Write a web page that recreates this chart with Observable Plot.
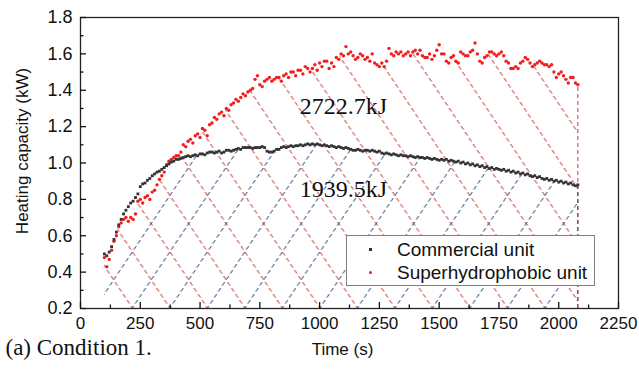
<!DOCTYPE html>
<html><head><meta charset="utf-8">
<script src="https://cdn.jsdelivr.net/npm/d3@7"></script>
<script src="https://cdn.jsdelivr.net/npm/@observablehq/plot@0.6"></script>
<style>
body{margin:0;background:#fff;}
#wrap{position:relative;width:639px;height:369px;overflow:hidden;background:#fff;}
.legend{position:absolute;left:346px;top:235px;width:247px;height:49px;border:1px solid #808080;background:#fff;font-family:"Liberation Sans",Arial,sans-serif;font-size:19px;color:#111;}
.row{position:absolute;left:0;width:100%;height:23px;line-height:23px;}
.mk{position:absolute;left:22px;top:10px;width:3px;height:3px;}
.lab{position:absolute;left:50px;white-space:nowrap;}
</style></head><body><div id="wrap"></div>
<script>
// ---- data ----
const timeStart = 100, timeStep = 10; // sampling of both series (s)
const commercial = [
0.50,0.49,0.51,0.54,0.58,0.62,0.66,0.69,0.72,0.74,
0.76,0.78,0.79,0.81,0.83,0.87,0.885,0.89,0.905,0.915,
0.93,0.94,0.95,0.955,0.965,0.975,0.985,0.995,1.005,1.01,
1.02,1.02,1.025,1.03,1.035,1.04,1.035,1.04,1.045,1.04,
1.05,1.05,1.045,1.055,1.06,1.06,1.055,1.06,1.065,1.055,
1.06,1.07,1.07,1.065,1.07,1.075,1.08,1.075,1.085,1.085,
1.085,1.085,1.08,1.085,1.085,1.085,1.09,1.085,1.065,1.06,
1.06,1.065,1.075,1.075,1.085,1.09,1.085,1.09,1.095,1.09,
1.095,1.095,1.1,1.095,1.1,1.105,1.1,1.105,1.1,1.105,
1.1,1.095,1.1,1.095,1.09,1.095,1.09,1.085,1.09,1.085,
1.08,1.085,1.08,1.075,1.07,1.07,1.075,1.07,1.065,1.07,
1.07,1.065,1.07,1.065,1.06,1.065,1.055,1.05,1.055,1.05,
1.045,1.05,1.045,1.04,1.045,1.04,1.04,1.035,1.04,1.035,
1.03,1.035,1.03,1.03,1.025,1.03,1.025,1.02,1.025,1.02,
1.015,1.02,1.015,1.02,1.01,1.015,1.01,1.005,1.01,1.0,
1.005,0.995,1.0,0.99,0.995,0.985,0.99,0.98,0.985,0.975,
0.98,0.97,0.975,0.965,0.97,0.965,0.96,0.965,0.955,0.96,
0.95,0.955,0.945,0.95,0.94,0.945,0.935,0.94,0.93,0.925,
0.93,0.92,0.925,0.915,0.91,0.915,0.905,0.91,0.9,0.905,
0.895,0.9,0.89,0.895,0.885,0.89,0.88,0.875,0.88];
const superhydrophobic = [
0.48,0.43,0.47,0.52,0.57,0.60,0.65,0.67,0.69,0.70,
0.68,0.70,0.69,0.72,0.79,0.80,0.78,0.81,0.82,0.80,
0.84,0.85,0.88,0.91,0.93,0.95,0.99,1.01,1.02,1.03,
1.04,1.04,1.06,1.10,1.09,1.12,1.13,1.11,1.15,1.16,
1.14,1.19,1.18,1.15,1.21,1.22,1.25,1.24,1.27,1.28,
1.26,1.30,1.29,1.32,1.33,1.35,1.34,1.36,1.38,1.37,
1.39,1.40,1.41,1.46,1.48,1.43,1.42,1.45,1.46,1.47,
1.45,1.46,1.47,1.47,1.45,1.48,1.49,1.47,1.50,1.50,
1.48,1.51,1.51,1.49,1.53,1.52,1.50,1.52,1.54,1.51,
1.55,1.53,1.56,1.56,1.52,1.55,1.53,1.58,1.57,1.60,
1.59,1.64,1.60,1.61,1.59,1.57,1.58,1.60,1.59,1.57,
1.58,1.56,1.60,1.55,1.54,1.53,1.55,1.53,1.56,1.63,
1.60,1.59,1.61,1.60,1.61,1.59,1.60,1.61,1.59,1.61,
1.62,1.60,1.62,1.59,1.58,1.58,1.60,1.57,1.59,1.62,
1.65,1.60,1.60,1.56,1.55,1.58,1.59,1.56,1.55,1.61,
1.60,1.59,1.59,1.61,1.62,1.66,1.60,1.56,1.55,1.58,
1.59,1.61,1.61,1.60,1.59,1.60,1.61,1.59,1.56,1.55,
1.52,1.52,1.53,1.52,1.55,1.56,1.58,1.57,1.55,1.53,
1.54,1.55,1.56,1.55,1.54,1.54,1.53,1.54,1.50,1.47,
1.49,1.50,1.48,1.46,1.44,1.47,1.47,1.44,1.43];
const seriesNames = ["Commercial unit", "Superhydrophobic unit"];
const xTicks = [0, 250, 500, 750, 1000, 1250, 1500, 1750, 2000, 2250];
const xMinorTicks = [125, 375, 625, 875, 1125, 1375, 1625, 1875, 2125];
const yTicks = [0.2, 0.4, 0.6, 0.8, 1.0, 1.2, 1.4, 1.6, 1.8];
const yMinorTicks = [0.3, 0.5, 0.7, 0.9, 1.1, 1.3, 1.5, 1.7];
const annotText = ["2722.7kJ", "1939.5kJ"];
const annotTime = [1100, 1100];
const annotValue = [1.31, 0.855];
const xLabel = "Time (s)";
const yLabel = "Heating capacity (kW)";
const caption = "(a) Condition 1.";

// ---- style ----
const hatchAnchorTime = 376, hatchGap = 37.5, hatchSlope = 1.5, dashPeriod = 6, dashOn = 3.5;
const redHatch = "#c43c3c", blueHatch = "#3d4a7d";

const rows = arr => arr.map((v, i) => ({t: timeStart + i * timeStep, v}));
const black = rows(commercial), red = rows(superhydrophobic);
const annot = annotText.map((s, i) => ({s, t: annotTime[i], v: annotValue[i]}));
const sans = '"Liberation Sans", Arial, sans-serif';
const serif = '"Liberation Serif", "Times New Roman", serif';

const plot = Plot.plot({
  width: 639, height: 369,
  marginLeft: 80, marginRight: 21, marginTop: 17, marginBottom: 61,
  style: {fontFamily: sans, fontSize: "17px", color: "#111", background: "#fff"},
  x: {domain: [0, 2250]},
  y: {domain: [0.2, 1.8]},
  marks: [
    Plot.areaY(red, {x: "t", y1: 0.2, y2: "v", fill: "url(#hatchRed)"}),
    Plot.areaY(black, {x: "t", y1: 0.2, y2: "v", fill: "url(#hatchBlue)"}),
    Plot.ruleX([red[red.length - 1]], {x: "t", y1: 0.2, y2: "v", stroke: redHatch, strokeDasharray: "4,3"}),
    Plot.ruleX([black[black.length - 1]], {x: "t", y1: 0.2, y2: "v", stroke: blueHatch, strokeDasharray: "4,3"}),
    Plot.text(annot, {x: "t", y: "v", text: "s", fontFamily: serif, fontSize: 24, fill: "#111", ariaLabel: "annotation"}),
    Plot.dot(red, {x: "t", y: "v", r: 1.7, fill: "#f01e1e"}),
    Plot.dot(black, {x: "t", y: "v", r: 1.6, symbol: "square", fill: "#333"}),
    Plot.frame({stroke: "#222", strokeWidth: 1.3}),
    Plot.axisX({ticks: xMinorTicks, tickSize: -3.5, tickFormat: () => "", label: null, strokeWidth: 1.3}),
    Plot.axisX({ticks: xTicks, tickSize: -6, tickPadding: 14, tickFormat: d => String(d), label: null, strokeWidth: 1.3}),
    Plot.axisY({ticks: yMinorTicks, tickSize: -3.5, tickFormat: () => "", label: null, strokeWidth: 1.3}),
    Plot.axisY({ticks: yTicks, tickSize: -6, tickPadding: 14, tickFormat: d3.format(".1f"), label: null, strokeWidth: 1.3, fontSize: 18}),
    Plot.text([yLabel], {text: d => d, frameAnchor: "left", textAnchor: "middle", rotate: -90, dx: -58, dy: -12, fontSize: 17, fill: "#111"}),
    Plot.text([xLabel], {text: d => d, frameAnchor: "bottom", dx: -7, dy: 46, fontSize: 17, fill: "#111"}),
    Plot.text([caption], {text: d => d, frameAnchor: "bottom-left", dx: -75, dy: 46, textAnchor: "start", fontFamily: serif, fontSize: 23, letterSpacing: "1px", fill: "#111"})
  ]
});

const wrap = document.getElementById("wrap");
wrap.appendChild(plot);

// hatch patterns
const ns = "http://www.w3.org/2000/svg";
const xs = plot.scale("x"), ys = plot.scale("y");
const yb = ys.apply(0.2), xa = xs.apply(hatchAnchorTime);
function hatch(id, color, dir) {
  const tan = 1 / hatchSlope;
  const p = document.createElementNS(ns, "pattern");
  p.setAttribute("id", id);
  p.setAttribute("patternUnits", "userSpaceOnUse");
  p.setAttribute("width", hatchGap);
  p.setAttribute("height", dashPeriod);
  p.setAttribute("patternTransform", `skewX(${dir * Math.atan(tan) * 180 / Math.PI})`);
  const c0 = xa - dir * yb * tan;
  const c = ((c0 % hatchGap) + hatchGap) % hatchGap;
  for (const off of [-hatchGap, 0, hatchGap]) {
    const l = document.createElementNS(ns, "line");
    l.setAttribute("x1", c + off); l.setAttribute("x2", c + off);
    l.setAttribute("y1", 0); l.setAttribute("y2", dashPeriod);
    l.setAttribute("stroke", color);
    l.setAttribute("stroke-width", 1.1);
    l.setAttribute("stroke-dasharray", `${dashOn} ${dashPeriod - dashOn}`);
    p.appendChild(l);
  }
  return p;
}
const defs = document.createElementNS(ns, "defs");
defs.appendChild(hatch("hatchRed", redHatch, 1));
defs.appendChild(hatch("hatchBlue", blueHatch, -1));
plot.insertBefore(defs, plot.firstChild);

// annotation backgrounds
const boxFills = ["#f6e6eb", "#eeeeee"];
plot.querySelectorAll('g[aria-label="annotation"] text').forEach((t, i) => {
  const b = t.getBBox();
  const r = document.createElementNS(ns, "rect");
  r.setAttribute("x", b.x - 4); r.setAttribute("y", b.y - 1);
  r.setAttribute("width", b.width + 8); r.setAttribute("height", b.height + 2);
  r.setAttribute("fill", boxFills[i % boxFills.length]);
  if (t.getAttribute("transform")) r.setAttribute("transform", t.getAttribute("transform"));
  t.parentNode.insertBefore(r, t);
});

// legend
const legend = document.createElement("div");
legend.className = "legend";
const markColors = ["#333", "#f01e1e"];
seriesNames.forEach((name, i) => {
  const row = document.createElement("div");
  row.className = "row";
  row.style.top = (2 + i * 23) + "px";
  const mk = document.createElement("div");
  mk.className = "mk";
  mk.style.background = markColors[i];
  if (i === 1) mk.style.borderRadius = "50%";
  const lab = document.createElement("div");
  lab.className = "lab";
  lab.textContent = name;
  row.appendChild(mk); row.appendChild(lab);
  legend.appendChild(row);
});
wrap.appendChild(legend);
</script></body></html>
